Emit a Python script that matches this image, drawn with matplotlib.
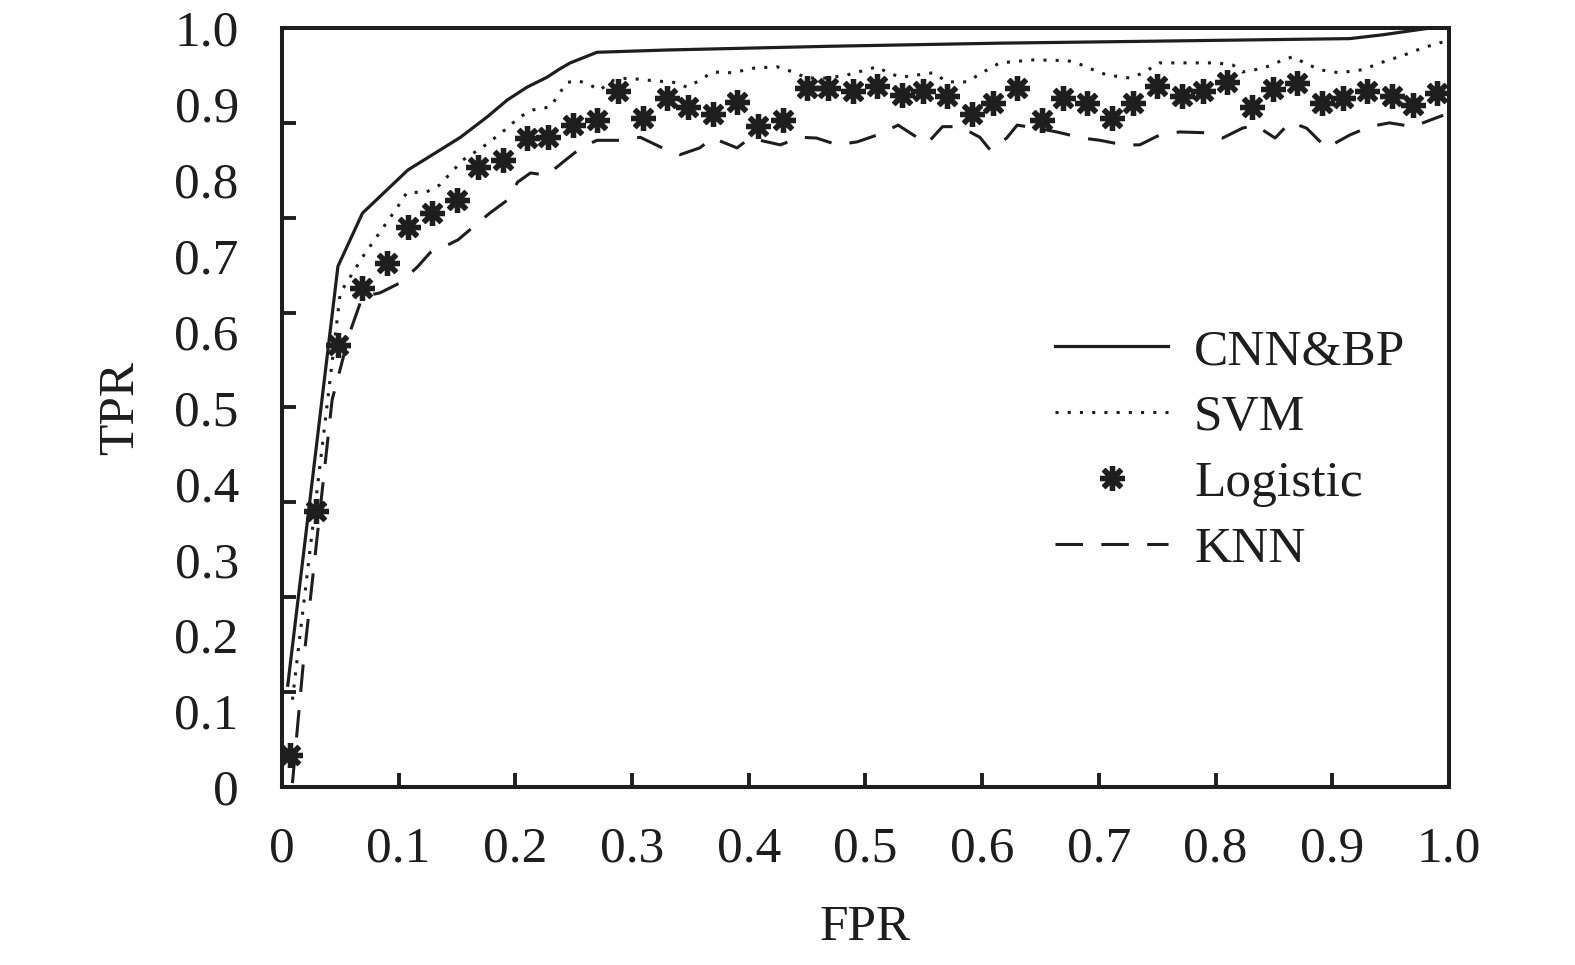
import matplotlib
matplotlib.use("Agg")
import matplotlib.pyplot as plt

plt.rcParams['font.family'] = ['Liberation Serif', 'DejaVu Serif']

# CNN&BP (solid)
cnn_fpr = [0.005, 0.048, 0.069, 0.108, 0.129, 0.153, 0.176, 0.193, 0.210, 0.227,
           0.238, 0.247, 0.270, 0.330, 0.472, 0.615, 0.716, 0.915, 0.943, 0.984, 1.0]
cnn_tpr = [0.134, 0.686, 0.756, 0.813, 0.833, 0.856, 0.883, 0.905, 0.922, 0.935,
           0.946, 0.954, 0.968, 0.971, 0.976, 0.980, 0.982, 0.986, 0.991, 1.0, 1.0]

# SVM (dotted)
svm_fpr = [0.009, 0.050, 0.069, 0.099, 0.107, 0.124, 0.135, 0.155, 0.172, 0.189,
           0.204, 0.215, 0.230, 0.244, 0.253, 0.264, 0.272, 0.284, 0.296, 0.315,
           0.338, 0.347, 0.358, 0.369, 0.386, 0.404, 0.424, 0.438, 0.450, 0.467,
           0.484, 0.501, 0.510, 0.518, 0.530, 0.544, 0.558, 0.570, 0.587, 0.601,
           0.615, 0.644, 0.673, 0.681, 0.695, 0.707, 0.727, 0.738, 0.752, 0.772,
           0.801, 0.815, 0.823, 0.841, 0.858, 0.866, 0.875, 0.889, 0.906, 0.926,
           0.943, 0.961, 0.978, 1.0]
svm_tpr = [0.115, 0.651, 0.698, 0.764, 0.783, 0.784, 0.793, 0.826, 0.843, 0.863,
           0.883, 0.892, 0.896, 0.928, 0.931, 0.925, 0.918, 0.931, 0.934, 0.931,
           0.928, 0.922, 0.931, 0.942, 0.941, 0.947, 0.949, 0.942, 0.934, 0.934,
           0.938, 0.945, 0.949, 0.942, 0.935, 0.938, 0.941, 0.929, 0.929, 0.942,
           0.954, 0.958, 0.957, 0.954, 0.945, 0.938, 0.934, 0.941, 0.954, 0.954,
           0.954, 0.951, 0.942, 0.947, 0.958, 0.962, 0.955, 0.945, 0.941, 0.945,
           0.955, 0.964, 0.974, 0.984]

# Logistic (asterisk markers)
log_fpr = [0.007, 0.029, 0.048, 0.069, 0.090, 0.108, 0.129, 0.150, 0.168, 0.189,
           0.210, 0.228, 0.249, 0.270, 0.288, 0.309, 0.330, 0.348, 0.369, 0.390,
           0.408, 0.429, 0.450, 0.468, 0.489, 0.510, 0.531, 0.549, 0.570, 0.591,
           0.609, 0.630, 0.651, 0.669, 0.690, 0.711, 0.729, 0.750, 0.771, 0.789,
           0.810, 0.831, 0.849, 0.870, 0.891, 0.909, 0.930, 0.951, 0.969, 0.990]
log_tpr = [0.042, 0.364, 0.582, 0.657, 0.690, 0.738, 0.756, 0.773, 0.817, 0.826,
           0.855, 0.856, 0.872, 0.879, 0.917, 0.881, 0.908, 0.896, 0.887, 0.902,
           0.871, 0.879, 0.921, 0.921, 0.917, 0.924, 0.912, 0.917, 0.911, 0.887,
           0.901, 0.921, 0.879, 0.908, 0.901, 0.881, 0.901, 0.924, 0.911, 0.917,
           0.929, 0.896, 0.920, 0.928, 0.901, 0.908, 0.917, 0.911, 0.898, 0.914]

# KNN (dashed)
knn_fpr = [0.009, 0.018, 0.043, 0.058, 0.069, 0.084, 0.101, 0.116, 0.127, 0.138,
           0.151, 0.164, 0.178, 0.193, 0.202, 0.213, 0.227, 0.243, 0.257, 0.270,
           0.292, 0.307, 0.326, 0.341, 0.358, 0.369, 0.390, 0.401, 0.427, 0.444,
           0.458, 0.476, 0.493, 0.510, 0.528, 0.541, 0.553, 0.566, 0.581, 0.598,
           0.607, 0.621, 0.630, 0.647, 0.664, 0.686, 0.701, 0.721, 0.735, 0.752,
           0.769, 0.791, 0.806, 0.823, 0.834, 0.851, 0.864, 0.878, 0.895, 0.915,
           0.932, 0.949, 0.969, 0.995]
knn_tpr = [0.005, 0.158, 0.510, 0.598, 0.646, 0.651, 0.664, 0.685, 0.704, 0.711,
           0.721, 0.738, 0.756, 0.773, 0.797, 0.809, 0.806, 0.826, 0.843, 0.852,
           0.852, 0.856, 0.842, 0.833, 0.842, 0.855, 0.842, 0.855, 0.846, 0.856,
           0.855, 0.846, 0.850, 0.859, 0.872, 0.859, 0.848, 0.870, 0.870, 0.856,
           0.839, 0.855, 0.872, 0.868, 0.863, 0.855, 0.852, 0.846, 0.846, 0.859,
           0.863, 0.862, 0.855, 0.868, 0.872, 0.855, 0.876, 0.868, 0.842, 0.859,
           0.870, 0.875, 0.870, 0.885]

x_ticks = [0, 0.1, 0.2, 0.3, 0.4, 0.5, 0.6, 0.7, 0.8, 0.9, 1.0]
x_labels = ["0", "0.1", "0.2", "0.3", "0.4", "0.5", "0.6", "0.7", "0.8", "0.9", "1.0"]
y_label_pos = [0, 0.1, 0.2, 0.3, 0.4, 0.5, 0.6, 0.7, 0.8, 0.9, 1.0]
y_labels = ["0", "0.1", "0.2", "0.3", "0.4", "0.5", "0.6", "0.7", "0.8", "0.9", "1.0"]
y_tick_marks = [0, 0.125, 0.25, 0.375, 0.5, 0.625, 0.75, 0.875, 1.0]

ink = '#1e1e1e'
fs = 37

fig = plt.figure(figsize=(15.75, 9.65), dpi=100)
ax = fig.add_axes([0.179, 0.1845, 0.741, 0.7865])

ax.plot(cnn_fpr, cnn_tpr, color=ink, lw=2.3, label="CNN&BP")
ax.plot(svm_fpr, svm_tpr, color=ink, lw=2.2, linestyle=(0, (1, 3)), label="SVM")
ax.plot(log_fpr, log_tpr, linestyle='none', marker=(8, 2, 0), markersize=18,
        markeredgewidth=3.8, color=ink, label="Logistic")
ax.plot(knn_fpr, knn_tpr, color=ink, lw=2.2, linestyle=(0, (9, 6)), label="KNN")

ax.set_xlim(0, 1.0)
ax.set_ylim(0, 1.0)

ax.set_xticks(x_ticks)
ax.set_xticklabels(x_labels)
ax.tick_params(axis='x', direction='in', length=10, width=2.8, pad=28,
               labelsize=fs, colors=ink)

# y: tick marks at eighths, labels at tenths
ax.yaxis.remove_overlapping_locs = False
ax.set_yticks(y_tick_marks)
ax.set_yticklabels([])
ax.tick_params(axis='y', which='major', direction='in', length=10, width=2.8, colors=ink)
ax.set_yticks(y_label_pos, minor=True)
ax.set_yticklabels(y_labels, minor=True)
ax.tick_params(axis='y', which='minor', length=0, pad=31, labelsize=fs, labelcolor=ink)

for s in ax.spines.values():
    s.set_linewidth(2.9)
    s.set_color(ink)

ax.set_xlabel("FPR", fontsize=fs, color=ink, labelpad=23)
ax.set_ylabel("TPR", fontsize=fs, color=ink, labelpad=22)

ax.legend(loc='upper left', bbox_to_anchor=(0.67, 0.66), bbox_transform=fig.transFigure,
          frameon=False, fontsize=fs, handlelength=2.2, handletextpad=0.5,
          labelspacing=0.37, borderpad=0, borderaxespad=0, labelcolor=ink)

fig.savefig("out.png", dpi=100)
